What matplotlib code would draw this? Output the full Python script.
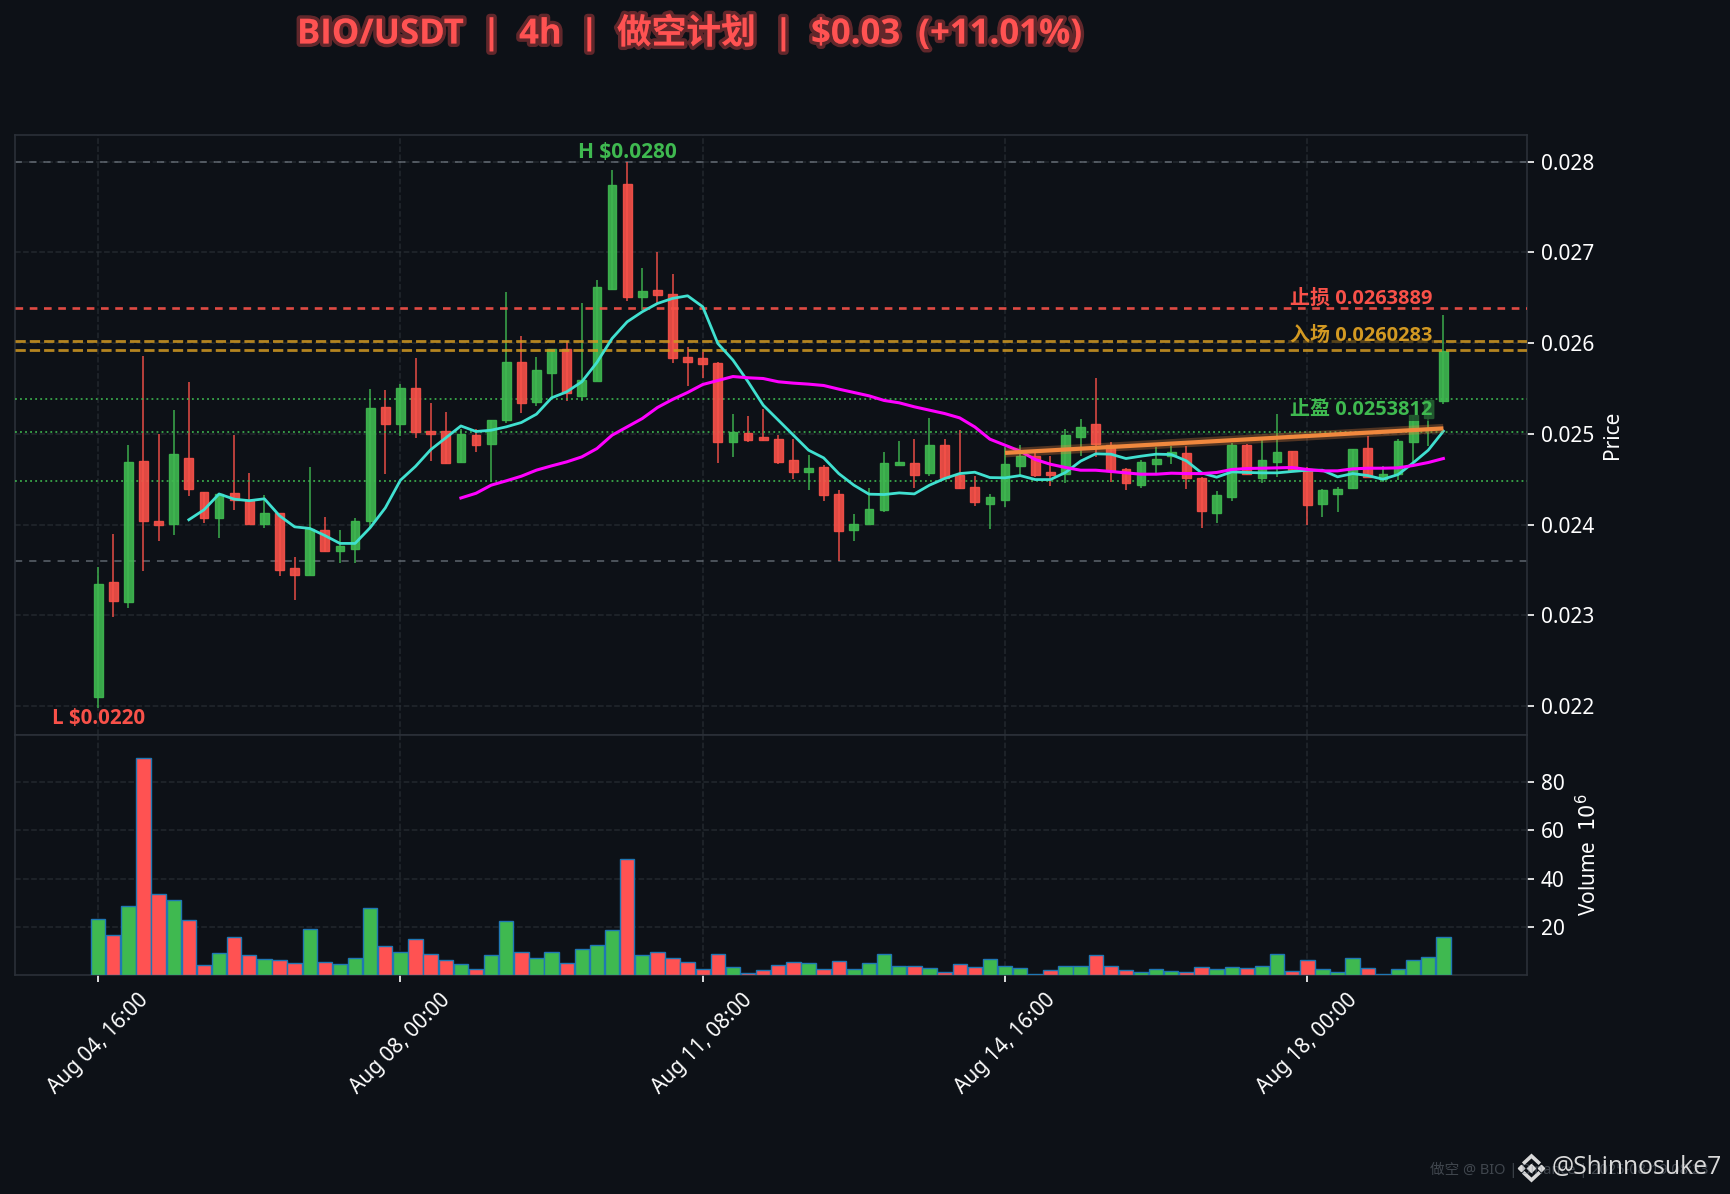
import matplotlib
matplotlib.use("Agg")
import matplotlib.pyplot as plt
import matplotlib.patheffects as pe
from matplotlib.lines import Line2D
import numpy as np

plt.rcParams["font.family"] = ["Noto Sans", "Noto Sans CJK SC", "DejaVu Sans"]
BOLD_FONT = ["Open Sans", "Noto Sans CJK SC", "DejaVu Sans"]

# 4h candles, prices in thousandths of a USDT
opens = [22.104,23.369,23.146,24.703,24.044,24.01,24.738,24.363,24.075,24.35,24.271,24.01,24.127,23.526,23.447,
         23.944,23.709,23.735,24.04,25.30,25.109,25.51,25.034,25.034,24.694,24.986,24.891,25.158,25.787,25.353,
         25.673,25.938,25.419,25.585,26.599,27.75,26.511,26.581,26.537,25.842,25.831,25.776,24.912,25.004,24.96,
         24.938,24.717,24.581,24.629,24.342,23.945,24.011,24.158,24.658,24.684,24.57,24.882,24.544,24.419,24.232,
         24.276,24.648,24.754,24.584,24.562,24.96,25.112,24.882,24.614,24.441,24.673,24.754,24.794,24.518,24.132,
         24.305,24.882,24.518,24.691,24.816,24.614,24.232,24.342,24.405,24.839,24.507,24.562,24.91,25.176,25.36]
closes = [23.347,23.159,24.694,24.04,23.996,24.773,24.389,24.075,24.341,24.271,24.01,24.132,23.499,23.447,23.953,
          23.709,23.761,24.044,25.287,25.109,25.501,25.021,25.0,24.681,24.995,24.873,25.157,25.787,25.342,25.699,
          25.93,25.445,25.599,26.614,27.739,26.511,26.57,26.533,25.838,25.794,25.772,24.912,25.018,24.934,24.93,
          24.691,24.581,24.618,24.327,23.93,24.011,24.176,24.684,24.695,24.551,24.882,24.518,24.408,24.25,24.305,
          24.673,24.754,24.551,24.551,24.982,25.076,24.892,24.588,24.46,24.695,24.724,24.801,24.518,24.15,24.331,
          24.882,24.555,24.717,24.805,24.599,24.217,24.379,24.397,24.828,24.526,24.562,24.923,25.204,25.371,25.915]
highs = [23.53,23.901,24.873,25.854,24.995,25.266,25.571,24.363,24.341,24.986,24.572,24.328,24.127,23.639,24.638,
         24.088,23.944,24.075,25.492,25.479,25.545,25.833,25.34,25.244,25.056,25.056,25.157,26.559,26.077,25.846,
         25.93,26.026,26.437,26.695,27.908,28.0,26.824,27.004,26.761,25.952,25.897,25.787,25.224,25.195,25.279,
         24.982,24.938,24.765,24.662,24.379,24.114,24.408,24.805,24.919,24.941,25.18,24.941,25.039,24.533,24.335,
         24.85,24.875,24.82,24.754,25.048,25.169,25.62,24.91,24.618,24.717,24.857,24.864,24.864,24.526,24.368,
         24.9,24.893,24.93,25.217,24.816,24.629,24.397,24.416,24.828,24.974,24.648,24.948,25.204,25.371,26.309]
lows = [21.98,22.976,23.081,23.486,23.822,23.883,24.315,24.018,23.848,24.162,24.01,23.962,23.434,23.168,23.447,
        23.70,23.573,23.573,23.966,24.555,24.978,24.956,24.703,24.664,24.681,24.803,24.47,25.121,25.232,25.305,
        25.408,25.364,25.364,25.585,26.585,26.463,26.364,26.437,25.783,25.526,25.618,24.68,24.746,24.912,24.923,
        24.669,24.5,24.379,24.261,23.599,23.82,24.011,24.14,24.658,24.401,24.537,24.518,24.393,24.202,23.952,
        24.195,24.526,24.526,24.427,24.46,24.76,24.746,24.47,24.379,24.405,24.562,24.665,24.393,23.963,24.018,
        24.261,24.544,24.463,24.526,24.599,24.0,24.086,24.14,24.387,24.526,24.47,24.489,24.673,24.864,25.334]

# volume in millions
volumes = [23.2,16.6,28.6,90.0,33.5,31.1,22.8,4.0,9.1,15.6,8.2,6.6,6.2,5.0,18.9,5.4,4.6,7.1,27.8,11.9,9.5,14.9,8.7,6.2,
           4.6,2.5,8.2,22.4,9.5,7.1,9.5,5.0,10.7,12.3,18.7,48.1,8.3,9.5,7.1,5.4,2.5,8.7,3.3,0.8,2.1,4.1,5.4,5.0,
           2.5,5.8,2.5,5.0,8.7,3.7,3.7,2.9,1.2,4.6,3.3,6.6,3.7,2.9,0.4,2.1,3.7,3.7,8.3,3.7,2.1,1.2,2.5,1.7,1.2,
           3.3,2.5,3.3,2.9,3.7,8.7,1.7,6.2,2.5,1.2,7.1,2.9,0.4,2.5,6.2,7.5,15.8]

# moving averages (first candle each one covers)
ma7_start = 6
ma7 = [24.053,24.162,24.337,24.28,24.263,24.284,24.097,23.975,23.957,23.879,23.792,23.792,23.966,24.184,24.489,24.642,
       24.825,24.956,25.087,25.026,25.04,25.077,25.125,25.217,25.397,25.463,25.574,25.787,26.051,26.235,26.346,26.437,
       26.493,26.522,26.401,25.996,25.813,25.574,25.316,25.151,24.985,24.82,24.735,24.562,24.434,24.335,24.331,24.349,
       24.338,24.434,24.507,24.562,24.577,24.518,24.515,24.54,24.496,24.496,24.574,24.699,24.78,24.776,24.728,24.754,
       24.776,24.772,24.702,24.57,24.522,24.581,24.574,24.57,24.57,24.585,24.599,24.599,24.526,24.562,24.54,24.5,24.551,
       24.68,24.82,25.03]
ma25_start = 24
ma25 = [24.293,24.345,24.434,24.482,24.533,24.6,24.647,24.691,24.746,24.838,24.985,25.077,25.169,25.29,25.379,25.456,
        25.544,25.588,25.632,25.618,25.61,25.574,25.559,25.548,25.533,25.493,25.456,25.419,25.368,25.342,25.298,25.261,
        25.224,25.176,25.076,24.941,24.875,24.809,24.717,24.665,24.629,24.599,24.599,24.585,24.57,24.555,24.555,24.566,
        24.562,24.562,24.574,24.607,24.618,24.621,24.625,24.629,24.607,24.592,24.592,24.614,24.621,24.621,24.625,24.651,
        24.684,24.728]

# trend line ends (candle index, price)
trend_x = [60, 89]
trend_y = [24.79, 25.06]

# plan levels
stop_level = 26.3889
entry_levels = [26.0283, 25.92]
target_levels = [25.3812, 25.018, 24.482]
range_levels = [28.0, 23.6]

tick_pos = [0, 20, 40, 60, 80]
tick_labels = ["Aug 04, 16:00", "Aug 08, 00:00", "Aug 11, 08:00", "Aug 14, 16:00", "Aug 18, 00:00"]
price_ticks = [0.022, 0.023, 0.024, 0.025, 0.026, 0.027, 0.028]
vol_ticks = [20, 40, 60, 80]

opens, closes = np.array(opens) / 1000, np.array(closes) / 1000
highs, lows = np.array(highs) / 1000, np.array(lows) / 1000
x = np.arange(len(opens))

BG = "#0d1117"
RED = "#f85149"
GREEN = "#3fb950"
ORANGE = "#d29922"
VOL_RED = "#ff5252"
TICK = "#ffffff"

W, H = 1731, 1194
fig = plt.figure(figsize=(W / 100, H / 100), dpi=100, facecolor=BG)
ax = fig.add_axes([15 / W, 1 - 735 / H, (1526.5 - 15) / W, (735 - 134.5) / H], facecolor=BG)
ax_vol = fig.add_axes([15 / W, 1 - 975 / H, (1526.5 - 15) / W, 240 / H], facecolor=BG, sharex=ax)

# candles
up = closes >= opens
colors = [GREEN if u else RED for u in up]
ax.vlines(x, lows, highs, colors=colors, linewidth=1.2, alpha=0.85, zorder=3)
ax.bar(x, np.abs(closes - opens), bottom=np.minimum(opens, closes), width=0.58, color=colors,
       edgecolor=colors, linewidth=1, alpha=0.9, zorder=4)

# moving averages
ax.plot(x[ma7_start:], np.array(ma7) / 1000, color="#40e0d0", linewidth=2, zorder=6)
ax.plot(x[ma25_start:], np.array(ma25) / 1000, color="#ff00ff", linewidth=2.2, zorder=6)

# level lines
for lv in range_levels:
    ax.axhline(lv / 1000, color="#8b949e", alpha=0.5, linewidth=1.4, linestyle=(0, (3.7, 3.6)), zorder=2)
ax.axhline(stop_level / 1000, color=RED, alpha=0.9, linewidth=1.9, linestyle=(0, (2.9, 2.5)), zorder=5)
for lv in entry_levels:
    ax.axhline(lv / 1000, color=ORANGE, alpha=0.85, linewidth=2, linestyle=(0, (3.7, 1.45)), zorder=5)
for lv in target_levels:
    ax.axhline(lv / 1000, color=GREEN, alpha=0.9, linewidth=1.3, linestyle=(0, (1, 1.8)), zorder=3)

# trend line with dark halo
ax.plot(trend_x, np.array(trend_y) / 1000, color="#f0883e", linewidth=3, zorder=7, solid_capstyle="butt",
        path_effects=[pe.Stroke(linewidth=6.5, foreground="#f0883e", alpha=0.3), pe.Normal()])

# level labels
box = dict(facecolor=BG, edgecolor="none", alpha=0.55, pad=1)
ax.text(88.3, 0.026494, "止损 0.0263889", color=RED, fontsize=14.4, fontweight="bold", family=BOLD_FONT,
        ha="right", va="center", zorder=8)
ax.text(88.3, 0.026083, "入场 0.0260283", color=ORANGE, fontsize=14.4, fontweight="bold", family=BOLD_FONT,
        ha="right", va="center", bbox=box, zorder=8)
ax.text(88.3, 0.025263, "止盈 0.0253812", color=GREEN, fontsize=14.4, fontweight="bold", family=BOLD_FONT,
        ha="right", va="center", bbox=box, zorder=8)

# high / low labels
i_hi, i_lo = int(np.argmax(highs)), int(np.argmin(lows))
ax.annotate("H $0.0280", (x[i_hi], highs[i_hi]), xytext=(0, 6.5), textcoords="offset points", color=GREEN,
            fontsize=15, fontweight="bold", family=BOLD_FONT, ha="center", va="center", zorder=8, parse_math=False)
ax.annotate("L $0.0220", (x[i_lo], lows[i_lo]), xytext=(0, -8), textcoords="offset points", color=RED,
            fontsize=14.8, fontweight="bold", family=BOLD_FONT, ha="center", va="center", zorder=8, parse_math=False)

# volume
vol_colors = [GREEN if u else VOL_RED for u in up]
ax_vol.bar(x, volumes, width=0.95, color=vol_colors, edgecolor="#1f77b4", linewidth=1, zorder=3)

# axes setup
for a in (ax, ax_vol):
    a.grid(True, color="#30363d", alpha=0.6, linewidth=1.1, linestyle="--", zorder=0)
    a.set_axisbelow(True)
    a.yaxis.tick_right()
    a.yaxis.set_label_position("right")
    for s in a.spines.values():
        s.set_color("#2b3038")
        s.set_linewidth(1.2)
    a.tick_params(colors=TICK, labelsize=15, length=5, width=1.2, pad=5.5)

ax.set_xlim(-5.5, 94.5)
ax.set_ylim(0.02168, 0.0283)
ax.set_yticks(price_ticks)
ax.set_yticklabels([f"{t:.3f}" for t in price_ticks])
ax.tick_params(axis="x", bottom=False, labelbottom=False)
ax.set_ylabel("Price", color=TICK, fontsize=15)
ax.yaxis.set_label_coords(1.0498, 0.5)

ax_vol.set_ylim(0, 99.6)
ax_vol.set_yticks(vol_ticks)
ax_vol.set_xticks(tick_pos)
ax_vol.set_xticklabels(tick_labels, rotation=45, ha="center")
ax_vol.set_ylabel("Volume  $10^{6}$", color=TICK, fontsize=15)
ax_vol.yaxis.set_label_coords(1.0327, 0.5)

# title
fig.text(690 / W, 1 - 33 / H, "BIO/USDT  |  4h  |  做空计划  |  $0.03  (+11.01%)", color=VOL_RED, fontsize=25,
         fontweight="bold", family=BOLD_FONT, ha="center", va="center", parse_math=False,
         path_effects=[pe.Stroke(linewidth=5, foreground=VOL_RED, alpha=0.35), pe.Normal()])

# watermarks
fig.text(1430 / W, 1 - 1170 / H, "做空 @ BIO | Binance | 2025-08-19 08:23", color="#8b949e", alpha=0.4,
         fontsize=10.5, ha="left", va="center")
fig.text(1552 / W, 1 - 1168 / H, "@Shinnosuke7", color="#d9d9d9", fontsize=17.8, ha="left", va="center",
         family=["Open Sans", "DejaVu Sans"])


# small Binance style logo, pixel positions of the figure
def px(xs, ys):
    return [v / W for v in xs], [1 - v / H for v in ys]


logo_x, logo_y = 1531.5, 1168
for dx, dy, size in [(0, 0, 4.5), (-10, 0, 3.2), (10, 0, 3.2)]:
    xs, ys = px([logo_x + dx], [logo_y + dy])
    fig.add_artist(Line2D(xs, ys, marker="D", markersize=size, color="#d9d9d9", linestyle="none"))
for sign in (-1, 1):
    xs, ys = px([logo_x - 7, logo_x, logo_x + 7], [logo_y + sign * 5.5, logo_y + sign * 12, logo_y + sign * 5.5])
    fig.add_artist(Line2D(xs, ys, color="#d9d9d9", linewidth=2.6, solid_joinstyle="miter"))

fig.savefig("out.png", dpi=100, facecolor=BG)
